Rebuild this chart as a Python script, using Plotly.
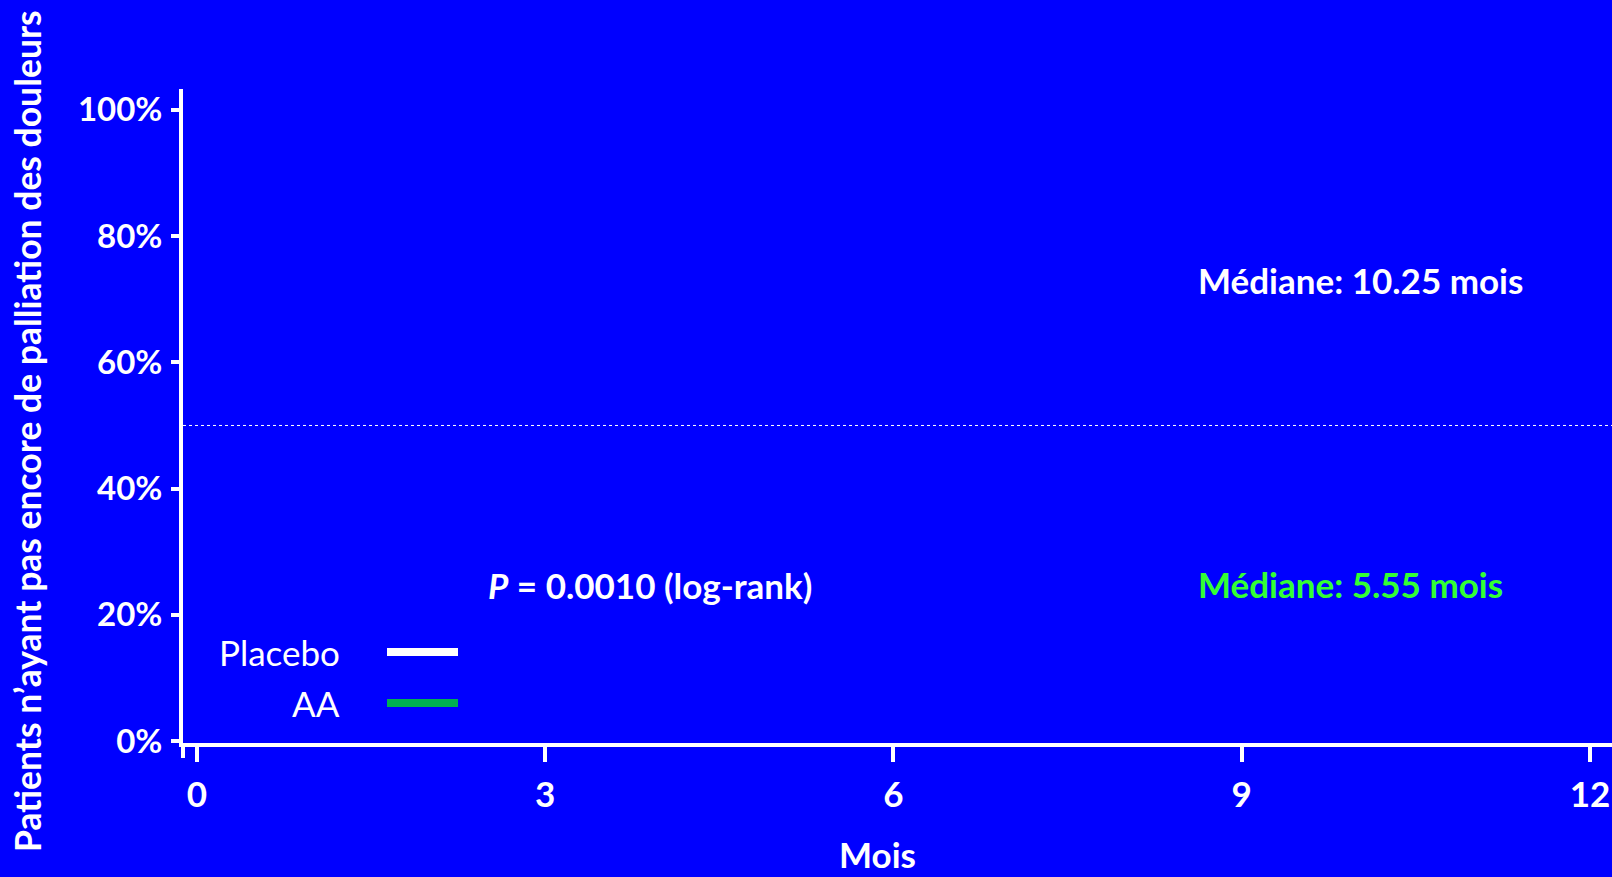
import plotly.graph_objects as go

# ---- data ----
month_ticks = [0, 3, 6, 9, 12]
pct_ticks = [0, 20, 40, 60, 80, 100]
pct_labels = [f"{v}%" for v in pct_ticks]
series_names = ["Placebo", "AA"]
series_colors = ["#FFFFFF", "#00B050"]
median_months = [10.25, 5.55]
median_label_colors = ["#FFFFFF", "#33FF33"]
median_level = 50
p_value = "0.0010"
x_title = "Mois"
y_title = "Patients n’ayant pas encore de palliation des douleurs"

# ---- layout geometry ----
W, H = 1612, 877
ML, MR, MT, MB = 183, 0, 89, 134
PW, PH = W - ML - MR, H - MT - MB
BG = "#0000FF"
FONT = "Lato"
FS = 35


def px(xp):
    return (xp - ML) / PW


def py(yp):
    return (H - MB - yp) / PH


fig = go.Figure()
for name, col in zip(series_names, series_colors):
    fig.add_trace(go.Scatter(x=[], y=[], mode="lines", name=name,
                             line=dict(color=col, width=8), showlegend=False))

fig.add_hline(y=median_level, line=dict(color="white", width=1, dash="dot"))

ann = []
shapes = []
# median labels
med_y = [py(280), py(584)]
for m, c, yy in zip(median_months, median_label_colors, med_y):
    ann.append(dict(x=px(1196), y=yy, xref="paper", yref="paper",
                    xanchor="left", yanchor="middle", showarrow=False,
                    text=f"Médiane: {m} mois",
                    font=dict(family=FONT, size=FS, color=c, weight="bold")))
# p value
ann.append(dict(x=px(486), y=py(585), xref="paper", yref="paper",
                xanchor="left", yanchor="middle", showarrow=False,
                text=f"<i>P</i> = {p_value} (log-rank)",
                font=dict(family=FONT, size=FS, color="white", weight="bold")))
# custom legend
leg_y = [652, 703]
for name, col, yy in zip(series_names, series_colors, leg_y):
    ann.append(dict(x=px(342), y=py(yy), xref="paper", yref="paper",
                    xanchor="right", yanchor="middle", showarrow=False,
                    text=name, font=dict(family=FONT, size=FS, color="white")))
    shapes.append(dict(type="line", xref="paper", yref="paper",
                       x0=px(387), x1=px(458), y0=py(yy), y1=py(yy),
                       line=dict(color=col, width=8)))
# axis titles
ann.append(dict(x=px(877), y=py(877), xref="paper", yref="paper",
                xanchor="center", yanchor="bottom", showarrow=False,
                text=x_title,
                font=dict(family=FONT, size=FS, color="white", weight="bold")))
ann.append(dict(x=px(27), y=py(431), xref="paper", yref="paper",
                xanchor="center", yanchor="middle", showarrow=False,
                text=y_title, textangle=-90,
                font=dict(family=FONT, size=35.5, color="white", weight="bold")))
# y-axis stub below x-axis
shapes.append(dict(type="line", xref="paper", yref="paper",
                   x0=px(183), x1=px(183), y0=0, y1=py(758),
                   line=dict(color="white", width=4)))

for s in shapes:
    fig.add_shape(**s)

fig.update_layout(
    width=W, height=H,
    margin=dict(l=ML, r=MR, t=MT, b=MB, pad=0),
    paper_bgcolor=BG, plot_bgcolor=BG,
    annotations=ann,
    showlegend=False,
    font=dict(family=FONT, color="white"),
)
fig.update_xaxes(range=[-0.12, 12.19], tickmode="array", tickvals=month_ticks,
                 showline=True, linecolor="white", linewidth=4,
                 ticks="outside", ticklen=15, tickwidth=4, tickcolor="white",
                 showgrid=False, zeroline=False, ticklabelstandoff=3,
                 tickfont=dict(family=FONT, size=FS, color="white", weight="bold"))
fig.update_yaxes(range=[-0.3, 103.3], tickmode="array", tickvals=pct_ticks,
                 ticktext=pct_labels,
                 showline=True, linecolor="white", linewidth=4,
                 ticks="outside", ticklen=8, tickwidth=4, tickcolor="white",
                 showgrid=False, zeroline=False, ticklabelstandoff=2,
                 tickfont=dict(family=FONT, size=33, color="white", weight="bold"))

fig.write_html("out.html", config={"displayModeBar": False})
